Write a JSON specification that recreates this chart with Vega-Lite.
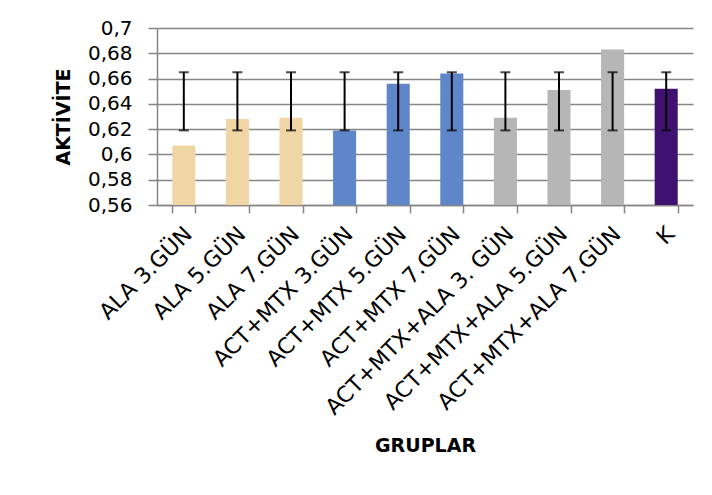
{
  "$schema": "https://vega.github.io/schema/vega-lite/v6.json",
  "width": 536,
  "height": 177,
  "autosize": {"type": "none"},
  "padding": {"left": 157, "top": 28, "right": 19, "bottom": 290},
  "background": "white",
  "config": {
    "view": {"stroke": null},
    "font": "DejaVu Sans",
    "axis": {
      "labelFont": "DejaVu Sans",
      "titleFont": "DejaVu Sans",
      "labelColor": "#000000",
      "titleColor": "#000000",
      "domainColor": "#868686",
      "domainWidth": 1.5,
      "tickColor": "#868686",
      "tickWidth": 1.5,
      "gridColor": "#868686",
      "gridWidth": 1.5,
      "labelOverlap": false,
      "labelLimit": 0
    }
  },
  "data": {
    "values": [
      {"grup": "ALA 3.GÜN", "aktivite": 0.607, "lo": 0.619, "hi": 0.665, "set": "ALA"},
      {"grup": "ALA 5.GÜN", "aktivite": 0.628, "lo": 0.619, "hi": 0.665, "set": "ALA"},
      {"grup": "ALA 7.GÜN", "aktivite": 0.629, "lo": 0.619, "hi": 0.665, "set": "ALA"},
      {"grup": "ACT+MTX 3.GÜN", "aktivite": 0.619, "lo": 0.619, "hi": 0.665, "set": "ACT+MTX"},
      {"grup": "ACT+MTX 5.GÜN", "aktivite": 0.656, "lo": 0.619, "hi": 0.665, "set": "ACT+MTX"},
      {"grup": "ACT+MTX 7.GÜN", "aktivite": 0.664, "lo": 0.619, "hi": 0.665, "set": "ACT+MTX"},
      {"grup": "ACT+MTX+ALA 3. GÜN", "aktivite": 0.629, "lo": 0.619, "hi": 0.665, "set": "ACT+MTX+ALA"},
      {"grup": "ACT+MTX+ALA 5.GÜN", "aktivite": 0.651, "lo": 0.619, "hi": 0.665, "set": "ACT+MTX+ALA"},
      {"grup": "ACT+MTX+ALA 7.GÜN", "aktivite": 0.683, "lo": 0.619, "hi": 0.665, "set": "ACT+MTX+ALA"},
      {"grup": "K", "aktivite": 0.652, "lo": 0.619, "hi": 0.665, "set": "K"}
    ]
  },
  "encoding": {
    "x": {
      "field": "grup",
      "type": "nominal",
      "sort": null,
      "scale": {"paddingInner": 0.57, "paddingOuter": 0.285},
      "axis": {
        "title": "GRUPLAR",
        "titleFontSize": 19,
        "titleFontWeight": "bold",
        "titlePadding": 31,
        "labelAngle": -45,
        "labelAlign": "right",
        "labelBaseline": "top",
        "labelFontSize": 22,
        "labelPadding": 10,
        "labelOffset": -3,
        "tickSize": 8,
        "tickBand": "extent",
        "grid": false
      }
    }
  },
  "layer": [
    {
      "mark": {"type": "bar", "clip": true},
      "encoding": {
        "y": {
          "field": "aktivite",
          "type": "quantitative",
          "scale": {"domain": [0.56, 0.7], "zero": false, "nice": false},
          "axis": {
            "title": "AKTİVİTE",
            "titleFontSize": 19,
            "titleFontWeight": "bold",
            "titlePadding": 14,
            "values": [0.56, 0.58, 0.6, 0.62, 0.64, 0.66, 0.68, 0.7],
            "tickCount": 20,
            "labelExpr": "replace(format(datum.value, '.2~f'), '.', ',')",
            "labelFontSize": 20,
            "labelPadding": 16,
            "labelOverlap": false,
            "tickSize": 9,
            "grid": true
          }
        },
        "color": {
          "field": "set",
          "type": "nominal",
          "scale": {
            "domain": ["ALA", "ACT+MTX", "ACT+MTX+ALA", "K"],
            "range": ["#EFD6A4", "#5F86C8", "#B6B6B6", "#3F1272"]
          },
          "legend": null
        }
      }
    },
    {
      "mark": {"type": "rule", "color": "#000000", "strokeWidth": 2},
      "encoding": {
        "y": {"field": "lo", "type": "quantitative"},
        "y2": {"field": "hi"}
      }
    },
    {
      "mark": {"type": "tick", "color": "#000000", "thickness": 2, "size": 10},
      "encoding": {
        "y": {"field": "lo", "type": "quantitative"}
      }
    },
    {
      "mark": {"type": "tick", "color": "#000000", "thickness": 2, "size": 10},
      "encoding": {
        "y": {"field": "hi", "type": "quantitative"}
      }
    }
  ]
}
